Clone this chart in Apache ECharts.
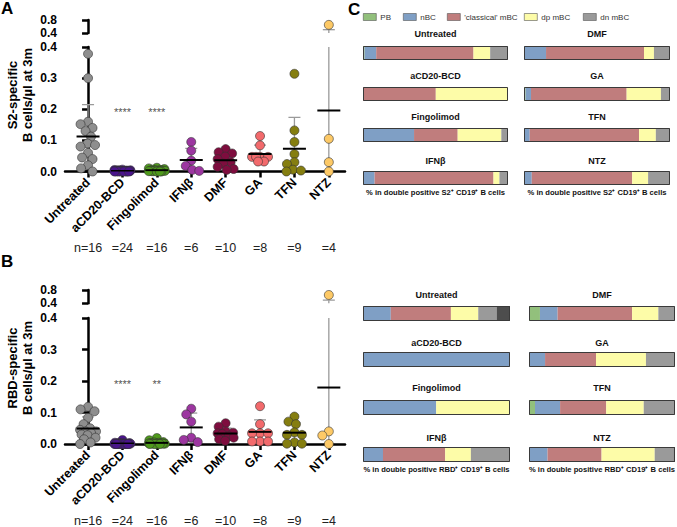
<!DOCTYPE html>
<html><head><meta charset="utf-8">
<script src="https://cdn.jsdelivr.net/npm/echarts@6/dist/echarts.min.js"></script>
<style>html,body{margin:0;padding:0;background:#fff}#c{width:677px;height:527px}</style>
</head><body><div id="c"></div>
<script>
// ---------------- DATA ----------------
const groups = ['Untreated','aCD20-BCD','Fingolimod','IFNβ','DMF','GA','TFN','NTZ'];
const groupColors = ['#8e8e8e','#4a148c','#4f9a1c','#9c36a0','#7e0d3e','#f26a6c','#857e10','#fdc966'];

// Panel A: S2-specific B cells/µl at 3m
const s2Untreated  = [0.378,0.30,0.16,0.152,0.14,0.13,0.112,0.09,0.085,0.08,0.06,0.045,0.04,0.02,0.01,0.0];
const s2ACD20      = [0.006,0.005,0.004,0.004,0.003,0.003,0.003,0.002,0.002,0.002,0.002,0.001,0.001,0.001,0.001,0.001,0,0,0,0,0,0,0,0];
const s2Fingolimod = [0.012,0.01,0.008,0.006,0.005,0.004,0.003,0.003,0.002,0.002,0.001,0.001,0.001,0,0,0];
const s2IFNb       = [0.095,0.067,0.035,0.018,0.005,0.002];
const s2DMF        = [0.072,0.062,0.058,0.048,0.04,0.03,0.025,0.015,0.008,0.005];
const s2GA         = [0.114,0.084,0.047,0.047,0.047,0.047,0.032,0.032];
const s2TFN        = [0.314,0.132,0.095,0.056,0.03,0.024,0.006,0.003,0.0];
const s2NTZ        = [0.65,0.105,0.03,0.0];
const s2Stars      = ['','****','****','','','','',''];

// Panel B: RBD-specific B cells/µl at 3m
const rbdUntreated  = [0.118,0.11,0.104,0.083,0.063,0.05,0.045,0.04,0.04,0.035,0.03,0.028,0.02,0.015,0.005,0.0];
const rbdACD20      = [0.013,0.004,0.003,0.003,0.002,0.002,0.002,0.001,0.001,0.001,0.001,0.001,0,0,0,0,0,0,0,0,0,0,0,0];
const rbdFingolimod = [0.019,0.012,0.006,0.005,0.004,0.003,0.003,0.002,0.002,0.001,0.001,0.001,0,0,0,0];
const rbdIFNb       = [0.112,0.094,0.071,0.02,0.013,0.006];
const rbdDMF        = [0.066,0.055,0.04,0.036,0.034,0.032,0.025,0.02,0.015,0.01];
const rbdGA         = [0.12,0.063,0.034,0.034,0.034,0.008,0.008,0.008];
const rbdTFN        = [0.087,0.071,0.063,0.037,0.029,0.029,0.005,0.001,0.001];
const rbdNTZ        = [0.65,0.04,0.027,0.0];
const rbdStars      = ['','****','**','','','','',''];

const yTicksMain = [0,0.1,0.2,0.3,0.4];
const yTicksBreak = [0.4,0.8];

// Panel C: composition (%) in double positive cells, order = groups
const segNames  = ['PB','nBC',"'classical' mBC",'dp mBC','dn mBC','other'];
const segColors = ['#92c07c','#7f9fc5','#c07d7d','#fdfca8','#9a9a9a','#4d4d4d'];
const s2PB        = [1.1, 0,    0,    0,    0,    1.1,  0,    0];
const s2nBC       = [8.0, 0,    35.2, 8.0,  15.1, 3.7,  3.9,  5.3];
const s2Classical = [67.1,50.2, 30.1, 82.0, 67.1, 65.5, 74.9, 68.8];
const s2dp        = [11.5,49.8, 30.1, 4.1,  6.8,  23.5, 11.5, 10.9];
const s2dn        = [12.3,0,    4.6,  5.9,  11.0, 6.2,  9.7,  15.0];
const s2Other     = [0,   0,    0,    0,    0,    0,    0,    0];
const rbdPB        = [0,   0,   0,    0,    7.5,  0,    4.1,  0];
const rbdnBC       = [18.9,100, 49.8, 13.6, 12.1, 11.0, 17.2, 12.7];
const rbdClassical = [40.9,0,   0,    42.3, 51.0, 34.9, 31.6, 37.0];
const rbddp        = [18.6,0,   50.2, 17.5, 18.0, 34.2, 25.7, 36.4];
const rbddn        = [12.5,0,   0,    26.6, 11.4, 19.9, 21.4, 13.0];
const rbdOther     = [9.1, 0,   0,    0,    0,    0,    0,    0.9];

// ---------------- BUILD ----------------
const FONT = '"Liberation Sans", Arial, Helvetica, sans-serif';
const grid=[], xAxis=[], yAxis=[], series=[], graphic=[], legend=[];
const XMIN=-0.67, XMAX=7.47, GL=65, GW=280;
const xPx = GW/(XMAX-XMIN);
const idxs = groups.map((g,i)=>i);

function mean(a){return a.reduce((s,v)=>s+v,0)/a.length;}
function sd(a){const m=mean(a);return Math.sqrt(a.reduce((s,v)=>s+(v-m)*(v-m),0)/(a.length-1));}

// simple beeswarm: pixel offsets
function swarm(vals, yPx, d, maxOff){
  const order = vals.map((v,i)=>i).sort((a,b)=>vals[b]-vals[a]);
  const placed=[], out=new Array(vals.length);
  for(const i of order){
    const y=vals[i]*yPx; let best=0, bestScore=-Infinity;
    outer: for(let k=0;k<=maxOff;k+=0.5){
      for(const s of (k?[-1,1]:[1])){
        const x=s*k; let minD=Infinity;
        for(const p of placed) minD=Math.min(minD,Math.hypot(p[0]-x,p[1]-y));
        if(minD>=d){best=x;bestScore=Infinity;break outer;}
        if(minD>bestScore+0.01){bestScore=minD;best=x;}
      }
    }
    placed.push([best,y]); out[i]=best;
  }
  return out;
}

const axisLineStyle={color:'#000',width:2.5};
function scatterPanel(cfg){
  const gMain=grid.length; grid.push({left:GL,top:cfg.mainTop,width:GW,height:cfg.mainH});
  const gUp=grid.length; grid.push({left:GL,top:cfg.upTop,width:GW,height:cfg.upH});
  const xMain=xAxis.length;
  xAxis.push({type:'value',gridIndex:gMain,min:XMIN,max:XMAX,
    axisLine:{show:true,onZero:false,lineStyle:axisLineStyle},
    axisTick:{show:true,customValues:idxs,length:6,lineStyle:axisLineStyle},
    axisLabel:{customValues:idxs,formatter:v=>groups[Math.round(v)],rotate:45,fontWeight:'bold',fontSize:12.5,color:'#000',margin:9,fontFamily:FONT},
    splitLine:{show:false}});
  xAxis.push({type:'value',gridIndex:gMain,min:XMIN,max:XMAX,position:'bottom',offset:70,
    axisLine:{show:false},axisTick:{show:false},splitLine:{show:false},
    axisLabel:{customValues:idxs,formatter:v=>{const i=Math.round(v);return (i===0?'n=':'=')+cfg.data[i].length;},fontSize:12.5,color:'#222',margin:0,fontFamily:FONT}});
  const xUp=xAxis.length;
  xAxis.push({type:'value',gridIndex:gUp,min:XMIN,max:XMAX,show:false});
  const yMain=yAxis.length;
  yAxis.push({type:'value',gridIndex:gMain,min:yTicksMain[0],max:yTicksMain[yTicksMain.length-1],interval:0.1,
    axisLine:{show:true,lineStyle:axisLineStyle},axisTick:{show:true,length:6,lineStyle:axisLineStyle},
    axisLabel:{formatter:v=>v.toFixed(1),fontWeight:'bold',fontSize:12,color:'#000',margin:8,fontFamily:FONT},
    splitLine:{show:false}});
  const yUp=yAxis.length;
  yAxis.push({type:'value',gridIndex:gUp,min:yTicksBreak[0],max:yTicksBreak[1],interval:0.4,
    axisLine:{show:true,lineStyle:axisLineStyle},axisTick:{show:true,length:6,lineStyle:axisLineStyle},
    axisLabel:{formatter:v=>v.toFixed(1),fontWeight:'bold',fontSize:12,color:'#000',margin:8,fontFamily:FONT,lineHeight:12},
    splitLine:{show:false}});
  const yPx = cfg.mainH/0.4;
  const stats = cfg.data.map((a,i)=>[i,mean(a),sd(a)]);
  const whisker=(params,api)=>{
    const i=api.value(0),m=api.value(1),s=api.value(2);
    const c=api.coord([i,m]),t=api.coord([i,m+s]),b=api.coord([i,Math.max(0,m-s)]);
    const st={stroke:'#9a9a9a',lineWidth:1.3};
    const ch=[{type:'line',shape:{x1:c[0],y1:t[1],x2:c[0],y2:b[1]},style:st},
              {type:'line',shape:{x1:c[0]-6,y1:t[1],x2:c[0]+6,y2:t[1]},style:st}];
    if(m-s>0) ch.push({type:'line',shape:{x1:c[0]-6,y1:b[1],x2:c[0]+6,y2:b[1]},style:st});
    return {type:'group',children:ch};
  };
  const meanLine=(params,api)=>{
    const c=api.coord([api.value(0),api.value(1)]);
    return {type:'line',shape:{x1:c[0]-11.5,y1:c[1],x2:c[0]+11.5,y2:c[1]},style:{stroke:'#000',lineWidth:2}};
  };
  [[xMain,yMain],[xUp,yUp]].forEach(([xa,ya])=>{
    series.push({type:'custom',xAxisIndex:xa,yAxisIndex:ya,data:stats,renderItem:whisker,clip:true,z:2,silent:true});
  });
  cfg.data.forEach((vals,i)=>{
    const off=swarm(vals,yPx,7.6,8);
    const pts=vals.map((v,j)=>[i+off[j]/xPx,v]);
    series.push({type:'scatter',xAxisIndex:xMain,yAxisIndex:yMain,data:pts.filter(p=>p[1]<=0.4),symbolSize:9,
      itemStyle:{color:groupColors[i],borderColor:'#333',borderWidth:0.6,opacity:1},z:3,silent:true});
    const up=pts.filter(p=>p[1]>0.4);
    if(up.length) series.push({type:'scatter',xAxisIndex:xUp,yAxisIndex:yUp,data:up,symbolSize:9,clip:false,
      itemStyle:{color:groupColors[i],borderColor:'#333',borderWidth:0.6,opacity:1},z:3,silent:true});
  });
  series.push({type:'custom',xAxisIndex:xMain,yAxisIndex:yMain,data:stats,renderItem:meanLine,clip:true,z:4,silent:true});
  series.push({type:'scatter',xAxisIndex:xMain,yAxisIndex:yMain,symbolSize:1,itemStyle:{color:'rgba(0,0,0,0)'},silent:true,z:5,
    data:cfg.stars.map((s,i)=>s?{value:[i,0.2],label:{show:true,formatter:s,position:'inside',offset:[0,3],fontSize:11,color:'#222',fontFamily:FONT}}:null).filter(Boolean)});
  graphic.push({type:'text',x:20,y:cfg.nameY,rotation:Math.PI/2,
    style:{text:cfg.name,align:'center',verticalAlign:'middle',fontSize:13,fontWeight:'bold',lineHeight:14.5,fontFamily:FONT,fill:'#000'}});
}

scatterPanel({data:[s2Untreated,s2ACD20,s2Fingolimod,s2IFNb,s2DMF,s2GA,s2TFN,s2NTZ],stars:s2Stars,
  mainTop:47,mainH:124.5,upTop:20,upH:13,name:'S2-specific\nB cells/µl at 3m',nameY:95});
scatterPanel({data:[rbdUntreated,rbdACD20,rbdFingolimod,rbdIFNb,rbdDMF,rbdGA,rbdTFN,rbdNTZ],stars:rbdStars,
  mainTop:318,mainH:128,upTop:290,upH:13.3,name:'RBD-specific\nB cells/µl at 3m',nameY:368});

// Panel C
function barPanel(cfg){
  groups.forEach((g,i)=>{
    const col=Math.floor(i/4), row=i%4;
    const left=cfg.colLeft[col], width=cfg.colW[col], top=cfg.rowTop[row], h=cfg.barH;
    const gi=grid.length; grid.push({left,top,width,height:h});
    const xa=xAxis.length; xAxis.push({type:'value',gridIndex:gi,min:0,max:100,show:false});
    const ya=yAxis.length; yAxis.push({type:'category',gridIndex:gi,data:[g],show:false});
    cfg.segs.forEach((arr,k)=>{
      series.push({type:'bar',name:segNames[k],xAxisIndex:xa,yAxisIndex:ya,stack:'st'+gi,data:[arr[i]],
        barWidth:'100%',itemStyle:{color:segColors[k]},silent:true});
    });
    series.push({type:'bar',name:'outline',xAxisIndex:xa,yAxisIndex:ya,data:[100],barWidth:'100%',barGap:'-100%',
      itemStyle:{color:'rgba(0,0,0,0)',borderColor:'#3a3a3a',borderWidth:1},z:5,silent:true});
    graphic.push({type:'text',x:left+width/2,y:cfg.titleY[row],
      style:{text:g,align:'center',verticalAlign:'middle',fontSize:9,fontWeight:'bold',fontFamily:FONT,fill:'#111'}});
  });
  cfg.colLeft.forEach((l,c)=>{
    graphic.push({type:'text',x:l+cfg.colW[c]/2,y:cfg.captionY,
      style:{text:cfg.caption,align:'center',verticalAlign:'middle',fontSize:7.6,fontWeight:'bold',fontFamily:FONT,fill:'#111'}});
  });
}
barPanel({segs:[s2PB,s2nBC,s2Classical,s2dp,s2dn,s2Other],colLeft:[363,524],colW:[145,146],
  rowTop:[46,87,128,171],barH:14,titleY:[34,76,117,160.5],captionY:192.5,
  caption:'% in double positive S2⁺ CD19⁺ B cells'});
barPanel({segs:[rbdPB,rbdnBC,rbdClassical,rbddp,rbddn,rbdOther],colLeft:[363,529],colW:[147,146],
  rowTop:[306,352,400,447],barH:15,titleY:[295,342.5,388,437.5],captionY:469.5,
  caption:'% in double positive RBD⁺ CD19⁺ B cells'});

[363,403,447,524,583].forEach((x,k)=>{
  legend.push({data:[segNames[k]],left:x,top:13,itemWidth:13,itemHeight:7,itemGap:0,padding:0,icon:'rect',
    selectedMode:false,itemStyle:{borderColor:'#555',borderWidth:0.6},
    textStyle:{fontSize:8,color:'#333',fontFamily:FONT,padding:[0,0,0,-1]}});
});

[['A',1,0],['B',1,253],['C',348,1]].forEach(([t,x,y])=>{
  graphic.push({type:'text',x,y,style:{text:t,fontSize:17,fontWeight:'bold',fontFamily:FONT,fill:'#000',align:'left',verticalAlign:'top'}});
});

const chart=echarts.init(document.getElementById('c'),null,{renderer:'svg',width:677,height:527});
chart.setOption({animation:false,backgroundColor:'#fff',textStyle:{fontFamily:FONT},
  grid,xAxis,yAxis,series,legend,graphic});
</script></body></html>
